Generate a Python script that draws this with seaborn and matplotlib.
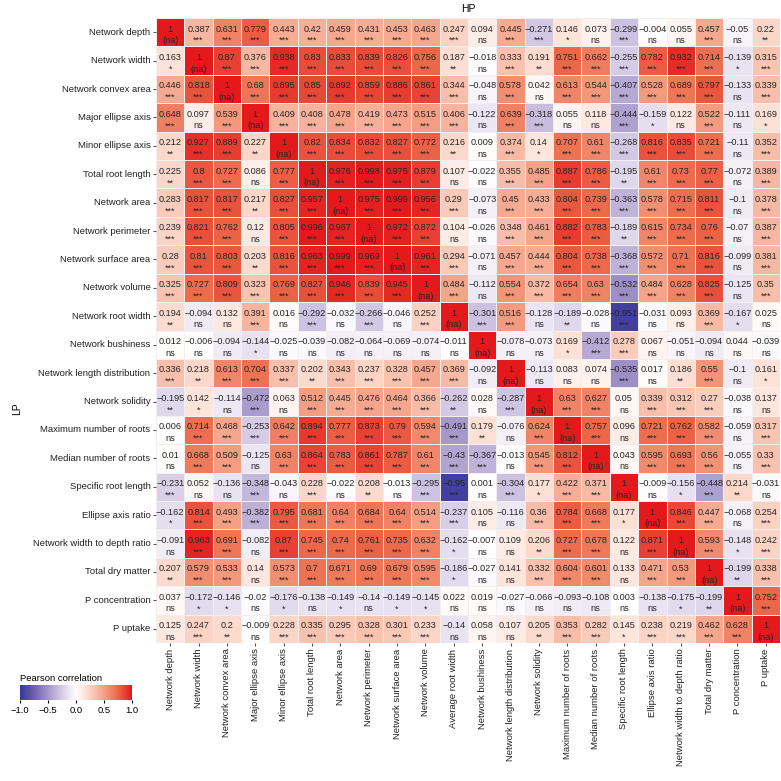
import numpy as np
import pandas as pd
import seaborn as sns
import matplotlib.pyplot as plt
from matplotlib.colors import LinearSegmentedColormap

# Trait names (columns = HP, rows = LP)
col_labels = ['Network depth', 'Network width', 'Network convex area', 'Major ellipse axis',
              'Minor ellipse axis', 'Total root length', 'Network area', 'Network perimeter',
              'Network surface area', 'Network volume', 'Average root width', 'Network bushiness',
              'Network length distribution', 'Network solidity', 'Maximum number of roots',
              'Median number of roots', 'Specific root length', 'Ellipse axis ratio',
              'Network width to depth ratio', 'Total dry matter', 'P concentration', 'P uptake']
row_labels = col_labels[:10] + ['Network root width'] + col_labels[11:]

# Pearson r, one list per row
corr_values = [
    [1, 0.387, 0.631, 0.779, 0.443, 0.42, 0.459, 0.431, 0.453, 0.463, 0.247, 0.094, 0.445, -0.271, 0.146, 0.073, -0.299, -0.004, 0.055, 0.457, -0.05, 0.22],
    [0.163, 1, 0.87, 0.376, 0.938, 0.83, 0.833, 0.839, 0.826, 0.756, 0.187, -0.018, 0.333, 0.191, 0.751, 0.662, -0.255, 0.782, 0.932, 0.714, -0.139, 0.315],
    [0.446, 0.818, 1, 0.68, 0.895, 0.85, 0.892, 0.859, 0.886, 0.861, 0.344, -0.048, 0.578, 0.042, 0.613, 0.544, -0.407, 0.528, 0.689, 0.797, -0.133, 0.339],
    [0.648, 0.097, 0.539, 1, 0.409, 0.408, 0.478, 0.419, 0.473, 0.515, 0.406, -0.122, 0.639, -0.318, 0.055, 0.118, -0.444, -0.159, 0.122, 0.522, -0.111, 0.169],
    [0.212, 0.927, 0.889, 0.227, 1, 0.82, 0.834, 0.832, 0.827, 0.772, 0.216, 0.009, 0.374, 0.14, 0.707, 0.61, -0.268, 0.816, 0.835, 0.721, -0.11, 0.352],
    [0.225, 0.8, 0.727, 0.086, 0.777, 1, 0.976, 0.998, 0.975, 0.879, 0.107, -0.022, 0.355, 0.485, 0.887, 0.786, -0.195, 0.61, 0.73, 0.77, -0.072, 0.389],
    [0.283, 0.817, 0.817, 0.217, 0.827, 0.957, 1, 0.975, 0.999, 0.956, 0.29, -0.073, 0.45, 0.433, 0.804, 0.739, -0.363, 0.578, 0.715, 0.811, -0.1, 0.378],
    [0.239, 0.821, 0.762, 0.12, 0.805, 0.996, 0.967, 1, 0.972, 0.872, 0.104, -0.026, 0.348, 0.461, 0.882, 0.783, -0.189, 0.615, 0.734, 0.76, -0.07, 0.387],
    [0.28, 0.81, 0.803, 0.203, 0.816, 0.963, 0.999, 0.969, 1, 0.961, 0.294, -0.071, 0.457, 0.444, 0.804, 0.738, -0.368, 0.572, 0.71, 0.816, -0.099, 0.381],
    [0.325, 0.727, 0.809, 0.323, 0.769, 0.827, 0.946, 0.839, 0.945, 1, 0.484, -0.112, 0.554, 0.372, 0.654, 0.63, -0.532, 0.484, 0.628, 0.825, -0.125, 0.35],
    [0.194, -0.094, 0.132, 0.391, 0.016, -0.292, -0.032, -0.266, -0.046, 0.252, 1, -0.301, 0.516, -0.128, -0.189, -0.028, -0.951, -0.031, 0.093, 0.369, -0.167, 0.025],
    [0.012, -0.006, -0.094, -0.144, -0.025, -0.039, -0.082, -0.064, -0.069, -0.074, -0.011, 1, -0.078, -0.073, 0.169, -0.412, 0.278, 0.067, -0.051, -0.094, 0.044, -0.039],
    [0.336, 0.218, 0.613, 0.704, 0.337, 0.202, 0.343, 0.237, 0.328, 0.457, 0.369, -0.092, 1, -0.113, 0.083, 0.074, -0.535, 0.017, 0.186, 0.55, -0.1, 0.161],
    [-0.195, 0.142, -0.114, -0.472, 0.063, 0.512, 0.445, 0.476, 0.464, 0.366, -0.262, 0.028, -0.287, 1, 0.63, 0.627, 0.05, 0.339, 0.312, 0.27, -0.038, 0.137],
    [0.006, 0.714, 0.468, -0.253, 0.642, 0.894, 0.777, 0.873, 0.79, 0.594, -0.491, 0.179, -0.076, 0.624, 1, 0.757, 0.096, 0.721, 0.762, 0.582, -0.059, 0.317],
    [0.01, 0.668, 0.509, -0.125, 0.63, 0.864, 0.783, 0.861, 0.787, 0.61, -0.43, -0.367, -0.013, 0.545, 0.812, 1, 0.043, 0.595, 0.693, 0.56, -0.055, 0.33],
    [-0.231, 0.052, -0.136, -0.348, -0.043, 0.228, -0.022, 0.208, -0.013, -0.295, -0.95, 0.001, -0.304, 0.177, 0.422, 0.371, 1, -0.009, -0.156, -0.448, 0.214, -0.031],
    [-0.162, 0.814, 0.493, -0.382, 0.795, 0.681, 0.64, 0.684, 0.64, 0.514, -0.237, 0.105, -0.116, 0.36, 0.784, 0.668, 0.177, 1, 0.846, 0.447, -0.068, 0.254],
    [-0.091, 0.963, 0.691, -0.082, 0.87, 0.745, 0.74, 0.761, 0.735, 0.632, -0.162, -0.007, 0.109, 0.206, 0.727, 0.678, 0.122, 0.871, 1, 0.593, -0.148, 0.242],
    [0.207, 0.579, 0.533, 0.14, 0.573, 0.7, 0.671, 0.69, 0.679, 0.595, -0.186, -0.027, 0.141, 0.332, 0.604, 0.601, 0.133, 0.471, 0.53, 1, -0.199, 0.338],
    [0.037, -0.172, -0.146, -0.02, -0.176, -0.138, -0.149, -0.14, -0.149, -0.145, 0.022, 0.019, -0.027, -0.066, -0.093, -0.108, 0.003, -0.138, -0.175, -0.199, 1, 0.752],
    [0.125, 0.247, 0.2, -0.009, 0.228, 0.335, 0.295, 0.328, 0.301, 0.233, -0.14, 0.058, 0.107, 0.205, 0.353, 0.282, 0.145, 0.238, 0.219, 0.462, 0.628, 1],
]

# Significance codes, one string per row
sig_labels = [
    "na *** *** *** *** *** *** *** *** *** *** ns *** *** * ns *** ns ns *** ns **",
    "* na *** *** *** *** *** *** *** *** ** ns *** ** *** *** *** *** *** *** * ***",
    "*** *** na *** *** *** *** *** *** *** *** ns *** ns *** *** *** *** *** *** ns ***",
    "*** ns *** na *** *** *** *** *** *** *** ns *** *** ns ns *** * ns *** ns *",
    "** *** *** ** na *** *** *** *** *** ** ns *** * *** *** *** *** *** *** ns ***",
    "** *** *** ns *** na *** *** *** *** ns ns *** *** *** *** ** *** *** *** ns ***",
    "*** *** *** ** *** *** na *** *** *** *** ns *** *** *** *** *** *** *** *** ns ***",
    "*** *** *** ns *** *** *** na *** *** ns ns *** *** *** *** ** *** *** *** ns ***",
    "*** *** *** ** *** *** *** *** na *** *** ns *** *** *** *** *** *** *** *** ns ***",
    "*** *** *** *** *** *** *** *** *** na *** ns *** *** *** *** *** *** *** *** ns ***",
    "** ns ns *** ns *** ns *** ns *** na *** *** ns ** ns *** ns ns *** * ns",
    "ns ns ns * ns ns ns ns ns ns ns na ns ns * *** *** ns ns ns ns ns",
    "*** ** *** *** *** ** *** *** *** *** *** ns na ns ns ns *** ns ** *** ns *",
    "** * ns *** ns *** *** *** *** *** ** ns *** na *** *** ns *** *** *** ns ns",
    "ns *** *** *** *** *** *** *** *** *** *** ** ns *** na *** ns *** *** *** ns ***",
    "ns *** *** ns *** *** *** *** *** *** *** *** ns *** *** na ns *** *** *** ns ***",
    "*** ns ns *** ns *** ns ** ns *** *** ns *** * *** *** na ns * *** ** ns",
    "* *** *** *** *** *** *** *** *** *** *** ns ns *** *** *** * na *** *** ns ***",
    "ns *** *** ns *** *** *** *** *** *** * ns ns ** *** *** ns *** na *** * ***",
    "** *** *** ns *** *** *** *** *** *** * ns ns *** *** *** ns *** *** na ** ***",
    "ns * * ns * ns * ns * * ns ns ns ns ns ns ns ns * ** na ***",
    "ns *** ** ns *** *** *** *** *** *** ns ns ns ** *** *** * *** *** *** *** na",
]

plt.rcParams['font.family'] = ['Liberation Sans', 'DejaVu Sans']

corr_df = pd.DataFrame(corr_values, index=row_labels, columns=col_labels)

cmap = LinearSegmentedColormap.from_list(
    'pearson', ['#38389a', '#6d60ad', '#a596c9', '#d6cce6', '#ffffff',
                '#fbd2c3', '#f4a085', '#ec6849', '#e3191c'])

fig = plt.figure(figsize=(7.81, 7.81), dpi=100)
ax = fig.add_axes([156 / 781, 1 - 643 / 781, 624 / 781, 625 / 781])
cax = fig.add_axes([20 / 781, 1 - 700 / 781, 112 / 781, 15 / 781])

sns.heatmap(corr_df, ax=ax, cmap=cmap, vmin=-1, vmax=1, linewidths=0.5,
            linecolor='#f4eeee', cbar_ax=cax,
            cbar_kws={'orientation': 'horizontal', 'ticks': [-1, -0.5, 0, 0.5, 1]})

# value on top line, significance below
for i in range(len(row_labels)):
    codes = sig_labels[i].split()
    for j in range(len(col_labels)):
        v = corr_values[i][j]
        txt = f"{v:g}".replace('-', '\u2212')
        star = '(na)' if codes[j] == 'na' else codes[j]
        ax.text(j + 0.5, i + 0.39, txt, ha='center', va='center', fontsize=6.6, color='#262626')
        ax.text(j + 0.5, i + 0.80, star, ha='center', va='center', fontsize=6.6, color='#262626')

ax.set_xticks(np.arange(len(col_labels)) + 0.5)
ax.set_xticklabels(col_labels, rotation=90, fontsize=6.8, color='#222222')
ax.set_yticklabels(row_labels, rotation=0, fontsize=6.8, color='#222222')
ax.tick_params(length=2, color='#555555', pad=2)
ax.set_xlabel('')
ax.set_ylabel('LP', fontsize=7.5)
ax.yaxis.set_label_coords(-0.215, 0.375)
ax.set_title('HP', fontsize=7.5, pad=4)

cax.set_title('Pearson correlation', fontsize=6.8, loc='left', pad=3)
cax.set_xticklabels(['\u22121.0', '\u22120.5', '0.0', '0.5', '1.0'], fontsize=6.8)
cax.tick_params(length=2, pad=2)
for s in cax.spines.values():
    s.set_visible(False)

fig.savefig('out.png', dpi=100)
